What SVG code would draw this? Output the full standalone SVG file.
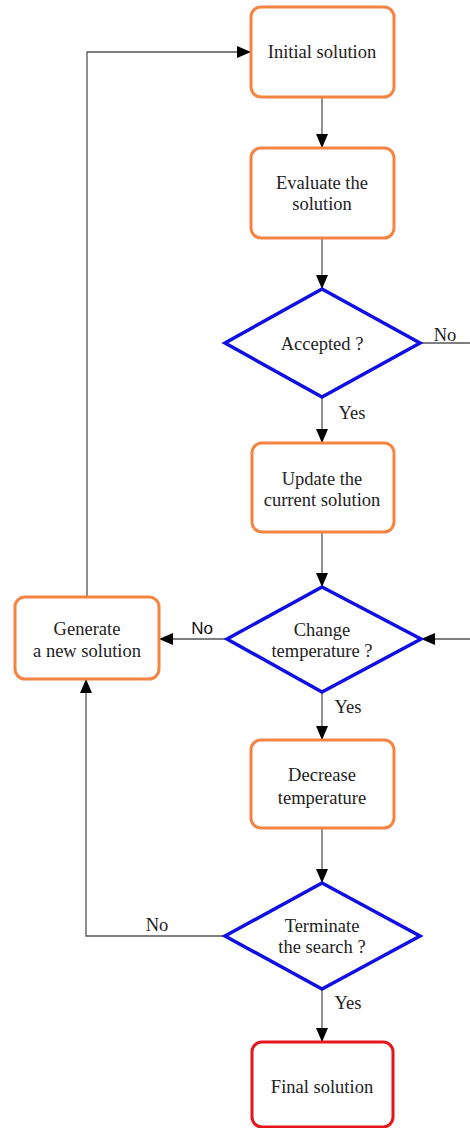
<svg xmlns="http://www.w3.org/2000/svg" width="470" height="1128" viewBox="0 0 470 1128">
<defs>
<marker id="ah" markerUnits="userSpaceOnUse" markerWidth="14" markerHeight="12" refX="14" refY="6" orient="auto">
<path d="M0,0 L14,6 L0,12 z" fill="#000"/>
</marker>
<style>
.box{fill:#fff;stroke:#F58442;stroke-width:3}
.fin{fill:#fff;stroke:#E5161E;stroke-width:3}
.dia{fill:#fff;stroke:#1010E6;stroke-width:3.5;stroke-linejoin:miter}
.t{font-family:"Liberation Serif","Times New Roman",serif;font-size:18.5px;fill:#222;text-anchor:middle}
.s{font-family:"Liberation Sans",Arial,sans-serif;font-size:17px;fill:#111;text-anchor:middle}
.c{fill:none;stroke:#555;stroke-width:1.3}
.ca{fill:none;stroke:#555;stroke-width:1.3;marker-end:url(#ah)}
</style>
</defs>
<rect width="470" height="1128" fill="#fff"/>
<g id="connectors">
<line class="ca" x1="322" y1="97" x2="322" y2="148"/>
<line class="ca" x1="322" y1="238" x2="322" y2="289"/>
<line class="c" x1="420" y1="343" x2="470" y2="343"/>
<line class="ca" x1="322" y1="397" x2="322" y2="443"/>
<line class="ca" x1="322" y1="532" x2="322" y2="587"/>
<line class="ca" x1="470" y1="639" x2="421" y2="639"/>
<line class="ca" x1="227" y1="639" x2="159" y2="639"/>
<polyline class="ca" points="87,597 87,52 251,52"/>
<line class="ca" x1="322" y1="692" x2="322" y2="740"/>
<line class="ca" x1="322" y1="828" x2="322" y2="883"/>
<polyline class="ca" points="225,936 86,936 86,679"/>
<line class="ca" x1="322" y1="989" x2="322" y2="1042"/>
<text class="t" x="445" y="341">No</text>
<text class="t" x="352" y="419">Yes</text>
<text class="s" x="202" y="634">No</text>
<text class="t" x="348" y="713">Yes</text>
<text class="t" x="157" y="931">No</text>
<text class="t" x="348" y="1009">Yes</text>
</g>
<g id="initial">
<rect class="box" x="251" y="7" width="143" height="90" rx="10"/>
<text class="t" x="322" y="58">Initial solution</text>
</g>
<g id="evaluate">
<rect class="box" x="251" y="148" width="143" height="90" rx="10"/>
<text class="t" x="322" y="189">Evaluate the</text>
<text class="t" x="322" y="210">solution</text>
</g>
<g id="accepted">
<polygon class="dia" points="322,289 420,343 322,397 225,343"/>
<text class="t" x="322" y="350">Accepted ?</text>
</g>
<g id="update">
<rect class="box" x="252" y="443" width="142" height="89" rx="10"/>
<text class="t" x="322" y="485">Update the</text>
<text class="t" x="322" y="506">current solution</text>
</g>
<g id="change">
<polygon class="dia" points="322,587 421,639 322,692 227,639"/>
<text class="t" x="322" y="636">Change</text>
<text class="t" x="322" y="657">temperature ?</text>
</g>
<g id="generate">
<rect class="box" x="15" y="597" width="144" height="82" rx="10"/>
<text class="t" x="87" y="635">Generate</text>
<text class="t" x="87" y="657">a new solution</text>
</g>
<g id="decrease">
<rect class="box" x="251" y="740" width="143" height="88" rx="10"/>
<text class="t" x="322" y="781">Decrease</text>
<text class="t" x="322" y="804">temperature</text>
</g>
<g id="terminate">
<polygon class="dia" points="322,883 420,936 322,989 225,936"/>
<text class="t" x="322" y="932">Terminate</text>
<text class="t" x="322" y="953">the search ?</text>
</g>
<g id="final">
<rect class="fin" x="252" y="1042" width="141" height="85" rx="10"/>
<text class="t" x="322" y="1093">Final solution</text>
</g>
</svg>
